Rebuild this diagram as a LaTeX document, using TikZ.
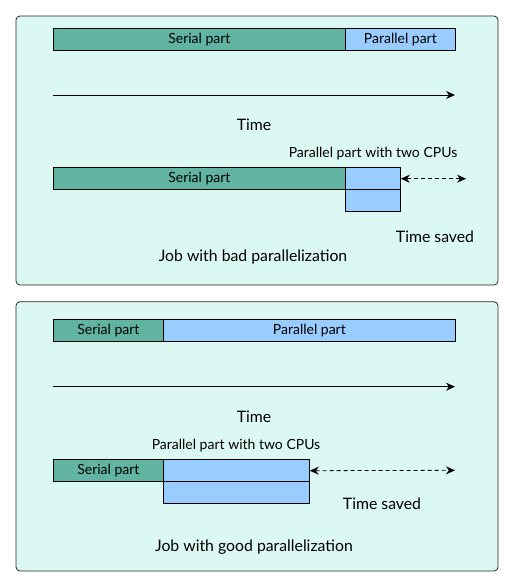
\documentclass[tikz,border=0pt]{standalone}
\usepackage{fontspec}
\setmainfont{Lato}
\usetikzlibrary{arrows.meta}
\definecolor{serialc}{HTML}{62B4A2}
\definecolor{parallelc}{HTML}{99CCFF}
\definecolor{panelc}{HTML}{DCF8F2}
\tikzstyle{panel}=[draw=black!85, fill=panelc, rounded corners=4pt, line width=0.8pt]
\tikzstyle{bar}=[rectangle, anchor=north west, draw=black, line width=0.8pt, minimum height=22pt, inner sep=0pt, font=\fontsize{14}{16}\selectfont]
\tikzstyle{serial} = [bar, fill=serialc]
\tikzstyle{parallel} = [bar, fill=parallelc]
\tikzstyle{label} = [inner sep=0pt, font=\fontsize{15.8}{18}\selectfont]
\tikzstyle{note} = [label, font=\fontsize{14}{16}\selectfont]
\tikzstyle{timeline} = [draw, line width=0.8pt, -{Stealth[length=9pt, width=8pt, inset=3pt]}]
\tikzstyle{saved} = [draw, line width=0.8pt, dash pattern=on 4pt off 3pt, {Stealth[length=9pt, width=8pt, inset=3pt]}-{Stealth[length=9pt, width=8pt, inset=3pt]}]

\begin{document}
\begin{tikzpicture}[x=1pt, y=-1pt]
				\useasboundingbox (0,0) rectangle (514,587);

				% bad parallelization
				\draw[panel] (16,16) rectangle (498,285);

				\node[serial, minimum width=292pt] (s_1) at (53,28.3) {Serial part};
				\node[parallel, minimum width=110pt] (p_1) at (345,28.3) {Parallel part};

				\coordinate (t_1) at (53,95);
				\coordinate (t_2) at (455,95);
				\draw[timeline] (t_1) -- (t_2);
				\node[label] (l_1) at (254,125) {Time};

				\node[note] (c_1) at (373,154) {Parallel part with two CPUs};
				\node[serial, minimum width=292pt] (s_2) at (53,167.3) {Serial part};
				\node[parallel, minimum width=55pt] (p_2) at (345,167.3) {};
				\node[parallel, minimum width=55pt] (p_3) at (345,189.3) {};

				\coordinate (e_1) at (466,178.7);
				\draw[saved] (p_2.east) -- (e_1);
				\node[label] (d_1) at (435,236.7) {Time saved};

				\node[label] (j_1) at (253,256.7) {Job with bad parallelization};

				% good parallelization
				\draw[panel] (16,301.7) rectangle (498,571);

				\node[serial, minimum width=110pt] (s_3) at (53,319.3) {Serial part};
				\node[parallel, minimum width=292pt] (p_4) at (163,319.3) {Parallel part};

				\coordinate (t_3) at (53,386.7);
				\coordinate (t_4) at (455,386.7);
				\draw[timeline] (t_3) -- (t_4);
				\node[label] (l_2) at (254,416.7) {Time};

				\node[note] (c_2) at (236,446) {Parallel part with two CPUs};
				\node[serial, minimum width=110pt] (s_4) at (53,459.3) {Serial part};
				\node[parallel, minimum width=146pt] (p_5) at (163,459.3) {};
				\node[parallel, minimum width=146pt] (p_6) at (163,481.3) {};

				\coordinate (e_2) at (455,470.3);
				\draw[saved] (p_5.east) -- (e_2);
				\node[label] (d_2) at (382,503.3) {Time saved};

				\node[label] (j_2) at (254,547.3) {Job with good parallelization};
			\end{tikzpicture}
\end{document}
